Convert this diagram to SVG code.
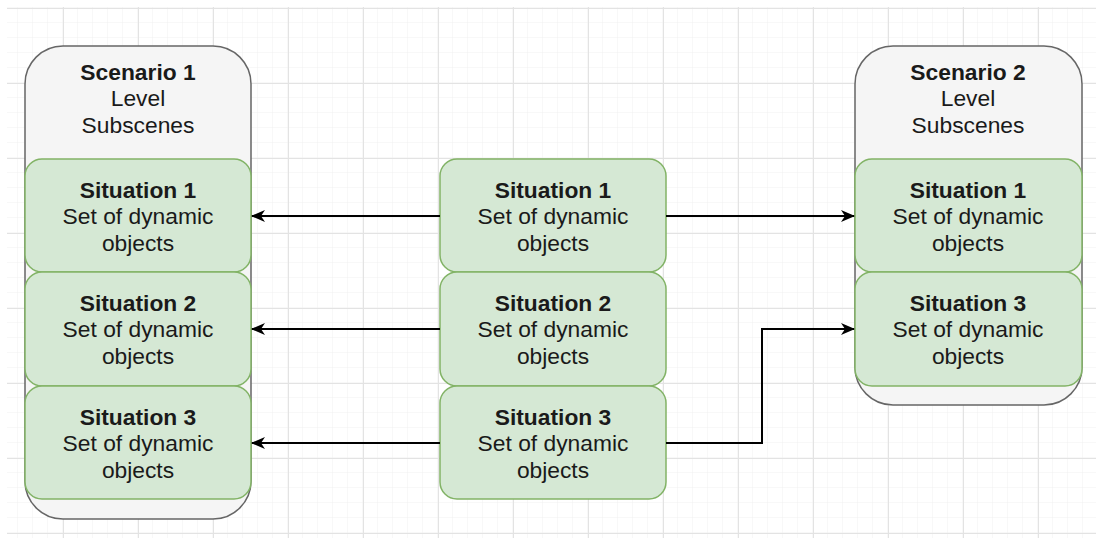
<svg xmlns="http://www.w3.org/2000/svg" width="1102" height="540" viewBox="0 0 1102 540">
<defs>
<pattern id="minor" x="3" y="8" width="15" height="15" patternUnits="userSpaceOnUse"><path d="M15 0V15M0 15H15" fill="none" stroke="#f0f0f0" stroke-width="1"/></pattern>
<pattern id="major" x="-12" y="8" width="75" height="75" patternUnits="userSpaceOnUse"><path d="M0.5 0V75M0 0.5H75" fill="none" stroke="#e3e3e3" stroke-width="1"/></pattern>
<marker id="ah" viewBox="0 0 14 12" refX="13" refY="6" markerWidth="14" markerHeight="12" markerUnits="userSpaceOnUse" orient="auto"><path d="M0,0 L14,6 L0,12 L4,6 Z" fill="#000"/></marker>
</defs>
<style>
.scen{fill:#f5f5f5;stroke:#666;stroke-width:1.5}
.sit{fill:#d5e8d4;stroke:#82b366;stroke-width:1.5}
text{font-family:"Liberation Sans",Arial,sans-serif;font-size:22.8px;fill:#1a1a1a;text-anchor:middle}
.b{font-weight:bold}
.edge{fill:none;stroke:#000;stroke-width:2;marker-end:url(#ah)}
</style>
<rect width="1102" height="540" fill="#fff"/>
<rect x="7" y="7" width="1089" height="531" fill="url(#minor)"/>
<rect x="7" y="7" width="1089" height="531" fill="url(#major)"/>

<g id="scenario1">
<rect class="scen" x="25" y="46" width="226" height="473" rx="38"/>
<text x="138" y="80" class="b">Scenario 1</text>
<text x="138" y="106">Level</text>
<text x="138" y="133">Subscenes</text>
</g>
<g id="scenario2">
<rect class="scen" x="855" y="46" width="227" height="359" rx="38"/>
<text x="968" y="80" class="b">Scenario 2</text>
<text x="968" y="106">Level</text>
<text x="968" y="133">Subscenes</text>
</g>

<g id="s1-sit1"><rect class="sit" x="25" y="159" width="226" height="113" rx="17"/><text x="138" y="198" class="b">Situation 1</text><text x="138" y="224">Set of dynamic</text><text x="138" y="251">objects</text></g>
<g id="s1-sit2"><rect class="sit" x="25" y="272" width="226" height="114" rx="17"/><text x="138" y="311" class="b">Situation 2</text><text x="138" y="337">Set of dynamic</text><text x="138" y="364">objects</text></g>
<g id="s1-sit3"><rect class="sit" x="25" y="386" width="226" height="113" rx="17"/><text x="138" y="425" class="b">Situation 3</text><text x="138" y="451">Set of dynamic</text><text x="138" y="478">objects</text></g>

<g id="m-sit1"><rect class="sit" x="440" y="159" width="226" height="113" rx="17"/><text x="553" y="198" class="b">Situation 1</text><text x="553" y="224">Set of dynamic</text><text x="553" y="251">objects</text></g>
<g id="m-sit2"><rect class="sit" x="440" y="272" width="226" height="114" rx="17"/><text x="553" y="311" class="b">Situation 2</text><text x="553" y="337">Set of dynamic</text><text x="553" y="364">objects</text></g>
<g id="m-sit3"><rect class="sit" x="440" y="386" width="226" height="113" rx="17"/><text x="553" y="425" class="b">Situation 3</text><text x="553" y="451">Set of dynamic</text><text x="553" y="478">objects</text></g>

<g id="s2-sit1"><rect class="sit" x="855" y="159" width="227" height="113" rx="17"/><text x="968" y="198" class="b">Situation 1</text><text x="968" y="224">Set of dynamic</text><text x="968" y="251">objects</text></g>
<g id="s2-sit3"><rect class="sit" x="855" y="272" width="227" height="114" rx="17"/><text x="968" y="311" class="b">Situation 3</text><text x="968" y="337">Set of dynamic</text><text x="968" y="364">objects</text></g>

<g id="connectors">
<path class="edge" d="M440 216H252"/>
<path class="edge" d="M440 329H252"/>
<path class="edge" d="M440 443H252"/>
<path class="edge" d="M666 216H854"/>
<path class="edge" d="M666 443H762V329H854"/>
</g>
</svg>
